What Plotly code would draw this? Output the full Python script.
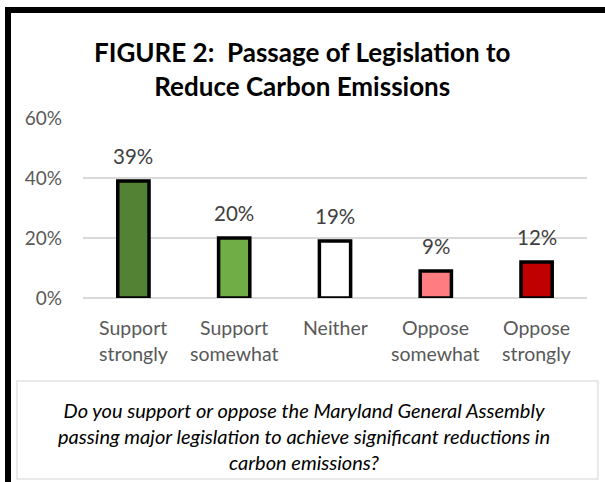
import plotly.graph_objects as go

# Survey responses
categories = ["Support strongly", "Support somewhat", "Neither", "Oppose somewhat", "Oppose strongly"]
category_lines = [["Support", "strongly"], ["Support", "somewhat"], ["Neither"],
                  ["Oppose", "somewhat"], ["Oppose", "strongly"]]
shares = [0.39, 0.20, 0.19, 0.09, 0.12]
bar_colors = ["#548235", "#70AD47", "#FFFFFF", "#FF7C80", "#C00000"]
y_ticks = [0, 0.2, 0.4, 0.6]
y_tick_labels = ["0%", "20%", "40%", "60%"]

W, H = 605, 482
L, R, T, B = 83, 18, 118, 184
PW, PH = W - L - R, H - T - B

def px_x(x):
    return (x - L) / PW

def px_y(y):
    return (H - B - y) / PH

FONT = "Lato, Calibri, Carlito, sans-serif"

fig = go.Figure()
fig.add_trace(go.Bar(
    x=categories,
    y=shares,
    width=0.31,
    marker=dict(color=bar_colors, line=dict(color="#000000", width=3.5)),
    hoverinfo="skip",
))

annotations = []
for c, v in zip(categories, shares):
    annotations.append(dict(
        x=c, y=v, xref="x", yref="y", text=f"{round(v*100)}%",
        showarrow=False, yanchor="bottom", yshift=11,
        font=dict(family=FONT, size=20.5, color="#404040"),
    ))

# Category labels, one line at a time for Calibri-like spacing
for c, lines in zip(categories, category_lines):
    for i, line in enumerate(lines):
        annotations.append(dict(
            x=c, xref="x", y=px_y(327 + 26 * i), yref="paper", text=line,
            showarrow=False, xanchor="center", yanchor="middle",
            font=dict(family=FONT, size=19.5, color="#595959"),
        ))

# Title
annotations.append(dict(
    x=px_x(302), y=px_y(69), xref="paper", yref="paper",
    text="<b>FIGURE 2:  Passage of Legislation to<br>Reduce Carbon Emissions</b>",
    showarrow=False, xanchor="center", yanchor="middle",
    font=dict(family=FONT, size=26, color="#000000"),
))

# Question caption
annotations.append(dict(
    x=px_x(304), y=px_y(436), xref="paper", yref="paper",
    text="<i>Do you support or oppose the Maryland General Assembly<br>"
         "passing major legislation to achieve significant reductions in<br>"
         "carbon emissions?</i>",
    showarrow=False, xanchor="center", yanchor="middle",
    font=dict(family=FONT, size=20, color="#000000"),
))

shapes = [
    # caption box
    dict(type="rect", xref="paper", yref="paper",
         x0=px_x(17), x1=px_x(598), y0=px_y(479), y1=px_y(381),
         line=dict(color="#E4E4E4", width=1.5), fillcolor="rgba(0,0,0,0)", layer="below"),
    # outer frame (top and left edges)
    dict(type="path", xref="paper", yref="paper",
         path=f"M {px_x(8)} {px_y(490)} L {px_x(8)} {px_y(10)} L {px_x(620)} {px_y(10)}",
         line=dict(color="#000000", width=6)),
]

fig.update_layout(
    width=W, height=H,
    margin=dict(l=L, r=R, t=T, b=B, pad=0),
    paper_bgcolor="#FFFFFF", plot_bgcolor="#FFFFFF",
    showlegend=False,
    annotations=annotations,
    shapes=shapes,
    xaxis=dict(
        showgrid=False, showline=False, zeroline=False, ticks="",
        showticklabels=False,
    ),
    yaxis=dict(
        range=[0, 0.6], tickvals=y_ticks, ticktext=y_tick_labels,
        showgrid=True, gridcolor="#D9D9D9", gridwidth=1.5,
        zeroline=True, zerolinecolor="#D9D9D9", zerolinewidth=1.5,
        showline=False, ticks="", ticklabelstandoff=20,
        tickfont=dict(family=FONT, size=19, color="#595959"),
    ),
    bargap=0.69,
)

fig.write_html("out.html")
